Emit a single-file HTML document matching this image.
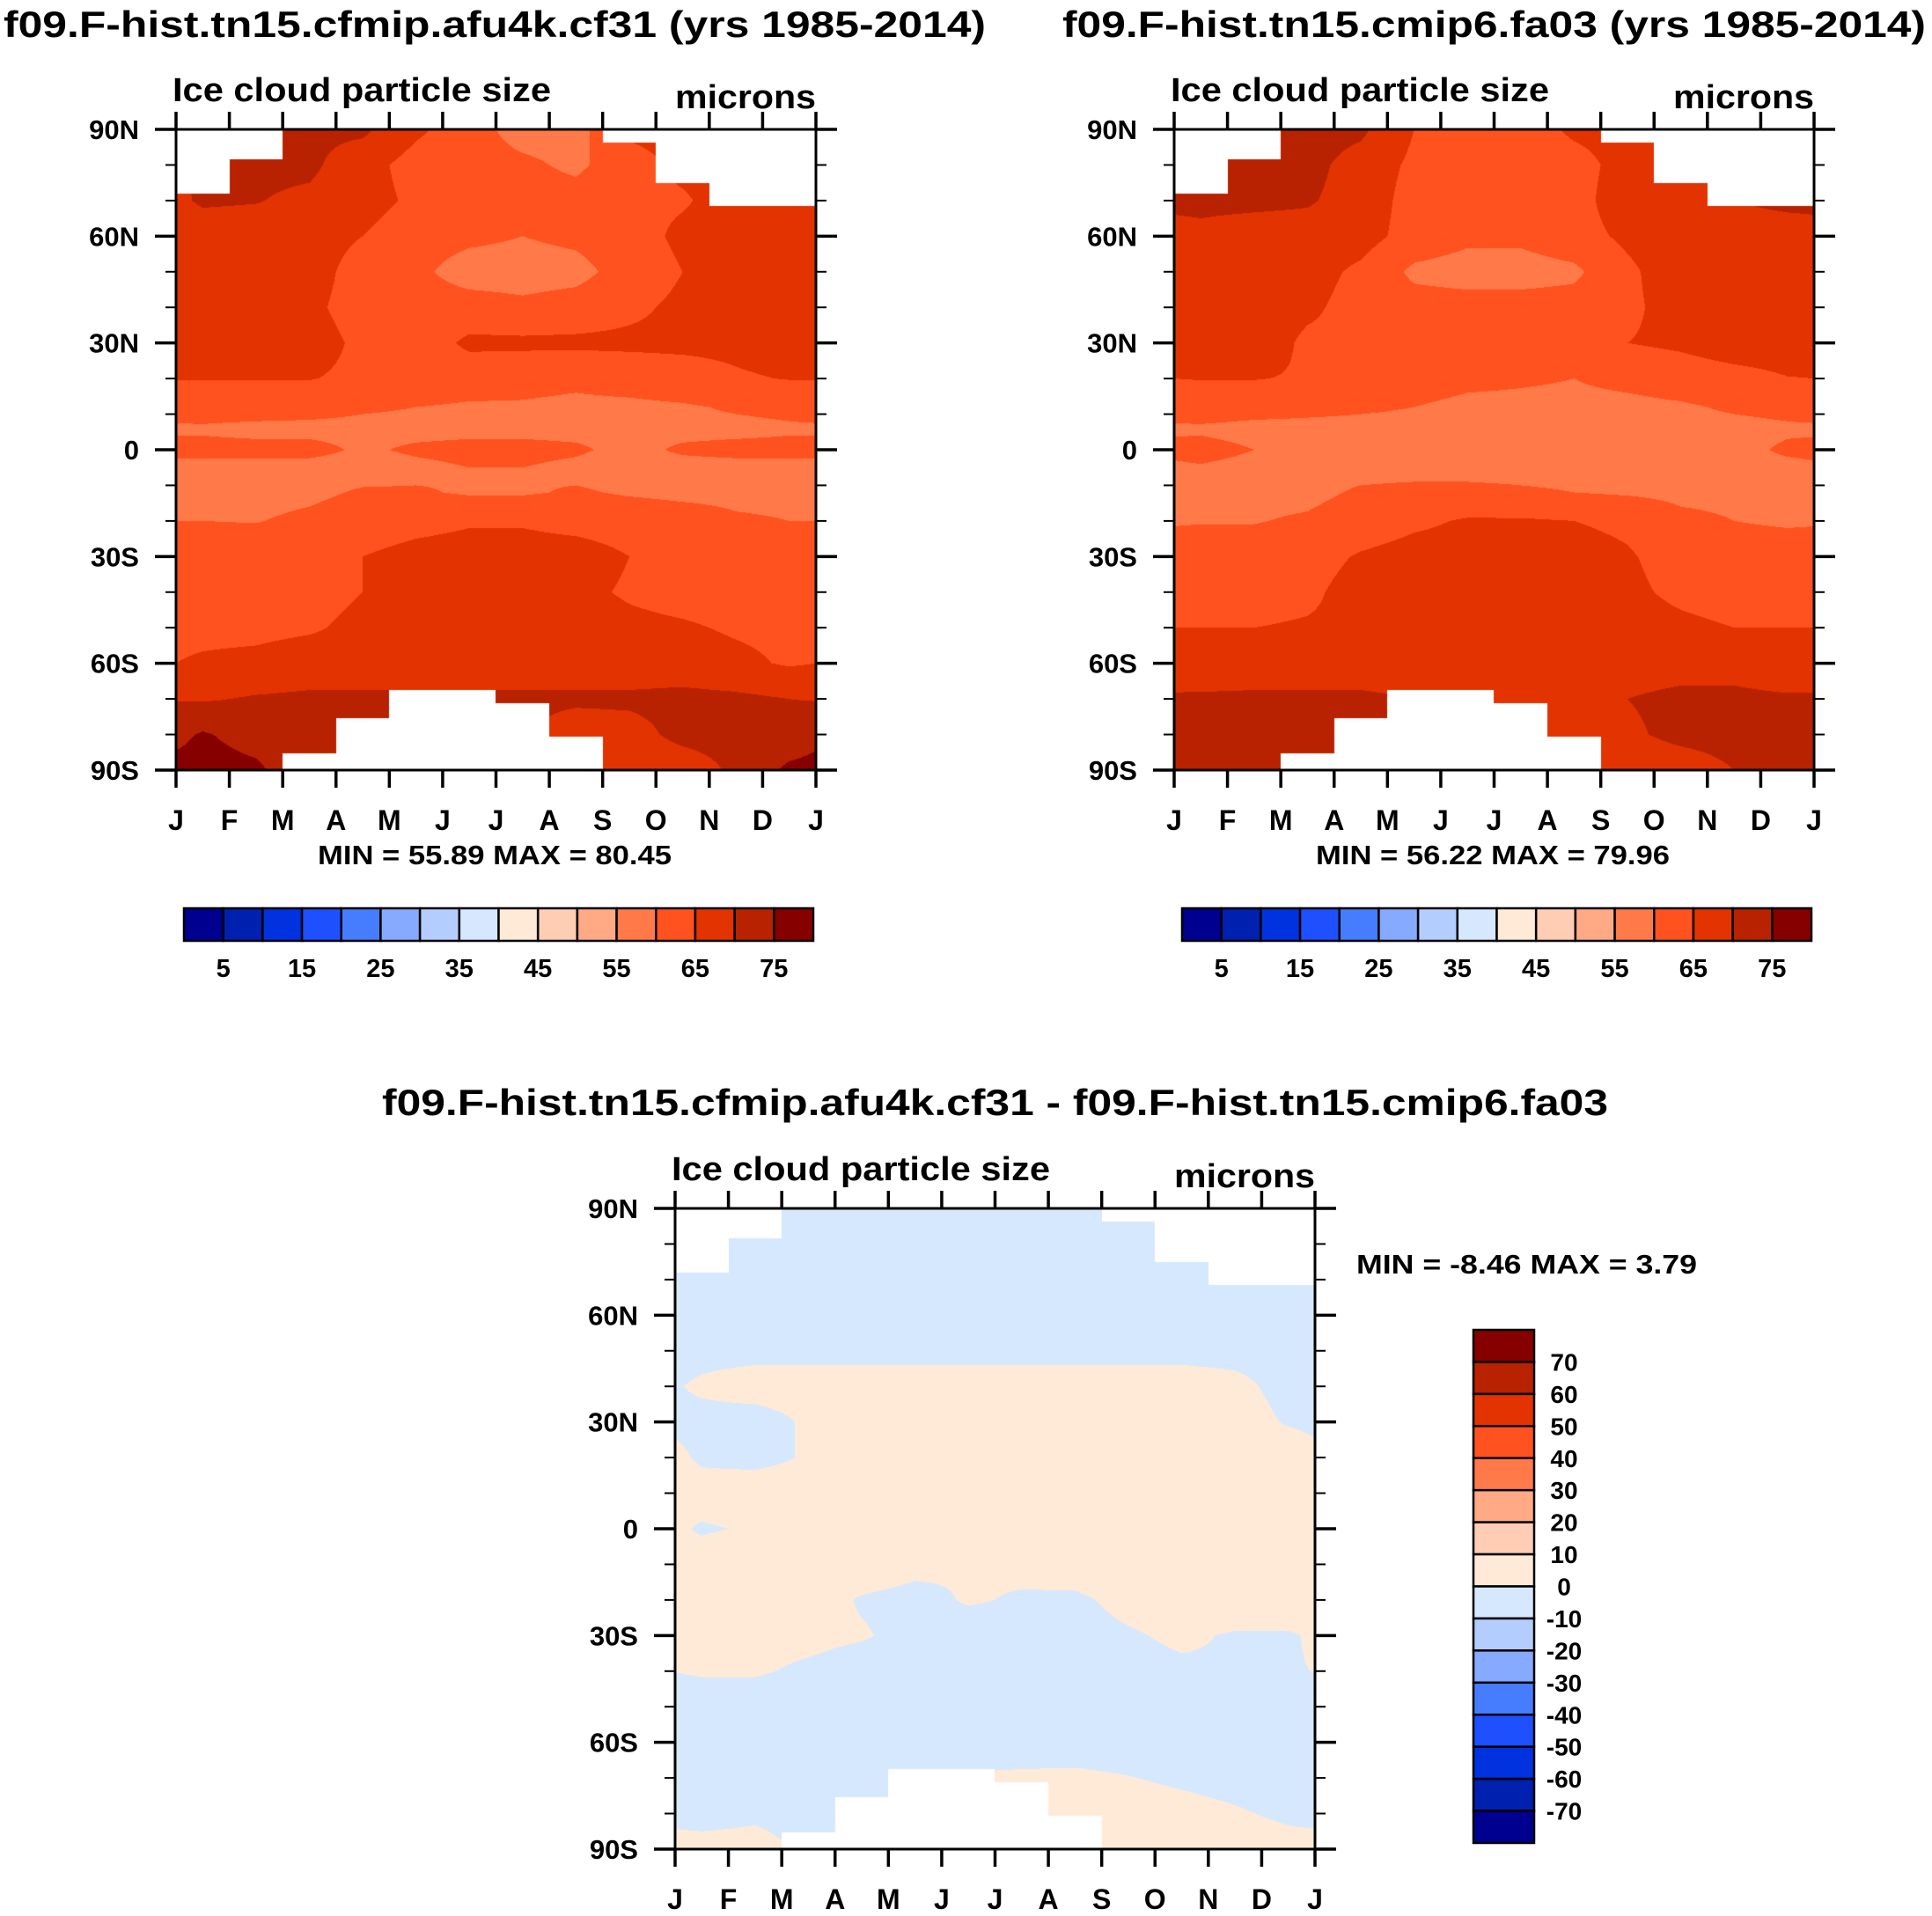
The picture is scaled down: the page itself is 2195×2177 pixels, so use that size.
<!DOCTYPE html>
<html><head><meta charset="utf-8">
<style>
html,body{margin:0;padding:0;background:#fff;}
#wrap{position:relative;width:2195px;height:2177px;overflow:hidden;font-family:"Liberation Sans",Arial,sans-serif;}
canvas{position:absolute;}
svg{position:absolute;left:0;top:0;}
text{font-family:"Liberation Sans",Arial,sans-serif;font-weight:bold;fill:#000;}
</style></head>
<body>
<div id="wrap">
<canvas id="c1" width="727" height="728" style="left:200px;top:147px"></canvas>
<canvas id="c2" width="727" height="728" style="left:1334px;top:147px"></canvas>
<canvas id="c3" width="727" height="728" style="left:767px;top:1373px"></canvas>
<svg id="ov" width="2195" height="2177"></svg>
</div>
<script>
// ---- data ----
const months = ["J","F","M","A","M","J","J","A","S","O","N","D","J"];
const lats = [90,80,70,60,50,40,30,20,12,6,0,-6,-12,-20,-30,-40,-50,-60,-70,-80,-90];
const northLimit = [72,81.6,90,90,90,90,90,90,86.4,75,68.4,68.4];
const southLimit = [-90,-90,-85.4,-75.3,-67.6,-67.6,-71.3,-80.6,-90,-90,-90,-90];
const fieldA = [
 [71,71,71,71,66,62,58,58,66,67,67,67],
 [71,71,71,67,63,62,61,59,63,66,67,67],
 [70.5,70.2,69,67,64,62,62,62,64,64.5,67,68],
 [68,68,67,65,62,61,60,61,63,66,68,68],
 [68,68,67,63,61,58,58,58.5,62,65,68,68],
 [68,68,66,63,62,62,61,62,64,66,68,68],
 [68,68,67,64,62,66,66,66,66,66,66,67],
 [65.2,65.2,65.2,64,63,62,61.5,61,62,63,64.5,65.2],
 [62,62,61.5,60.5,60,59.5,59.5,59,59,59.5,60.5,61],
 [59.5,59,59,59,59,59,59,59,59,59,59,59.5],
 [61,61,61,59.5,60.5,61,61,60.5,59,60.5,61,61],
 [58.5,58.5,58.5,58.5,59,59.8,59.8,59,58.5,58.5,58.5,58.5],
 [58.5,58.5,59,60.5,60.5,59.5,59.5,60.5,59.5,59,59,59],
 [60,59.8,61,62.5,63.5,64.5,64.5,63.5,63,62,60.5,60],
 [63,63,63.5,65,66.5,67,67,67,65,64,63,63],
 [63,63,63.5,65,67,67,67,66,64.5,63.5,63,63],
 [64,64,64.5,66,67,67,67,67,66,65.5,64.5,64],
 [65.5,66,67,67,67,67,67,67,67,67,66,64.5],
 [69.5,70.5,71,71,71,71,71,71,71,71.5,71,70],
 [75.5,73,71,71,71,71,71,67,68,71.5,72,72],
 [77,76,71,71,71,71,71,66,66,67,71,76]
];
const fieldB = [
 [72,72,72,71,65,62,62,66,67,68,70,72],
 [72,72,71.5,68,64,62,62,63,67,69,70,72],
 [71,71,70.5,68,63,62,62,63,68,68,70,71],
 [69,68,68,67,63,61,61,63,66,68,68,68],
 [68,68,67,64,59,58,58,59,64,68,68,68],
 [68,68,66,63,62,62,62,62,64,67,68,68],
 [68,68,64,64,63,63,63,64,65,66,68,68],
 [65.2,65.2,64.5,63,62,61,60.5,60,61,62,63,64.8],
 [62,61.5,61,60.5,60,59,59,59,59,59.5,60.5,61],
 [59.5,59,59,59,59,59,59,59,59,59,59,59.5],
 [61,60,59,59,59,59,59,59,59,59,59,60.5],
 [59.5,59,59,59,59,59,59,59,59,59,59,59],
 [59,59,59,60.5,61,61,60.5,60,59.5,59,59,59],
 [59.8,59.8,60.5,62,64,65.5,65.5,65,64,61,60,59.5],
 [62,62,63,65.5,67,67,67,67,65.5,63,62,62],
 [63,63,64,67,67,67,67,67,66,64,63,63],
 [65,65,65.5,66,67,67,67,67,67,66,65,65],
 [66,67,67,67,67,67,67,67,67,67.5,67.5,65],
 [71,71,71,71,70,70,68,68,70,71.5,71.5,71],
 [72,74,72,71,71,71,70,69,69,71.5,72,71.5],
 [74,72,71,71,71,71,70,68,66,67,70,73]
];
const fieldDiff = [
 [-2,-2,-2,-2,-2,-2,-2,-2,-2,-2,-2,-2],
 [-2,-2,-2,-2,-2,-2,-2,-2,-2,-2,-2,-2],
 [-2,-2,-2,-2,-2,-2,-2,-2,-2,-2,-2,-2],
 [-2,-2,-2,-2,-2,-2,-2,-2,-2,-2,-2,-2],
 [-1,-1,-1,-1,-1,-1,-1,-1,-1,-1,-1,-1],
 [0.5,1.5,1.5,1.5,1.5,1.5,1.5,1.5,1.5,1.5,0.8,-1],
 [-1,-1.5,0.5,2,2,2,2,2,2,2,1.5,-0.3],
 [-0.5,-1.5,0.5,2,2,2,2,2,2,2,1,2],
 [1,2,2,2,2,2,2,2,2,2,2,2],
 [1,2,2,2,2,2,2,2,2,2,2,2],
 [-0.5,0.5,2,2,2,2,2,2,2,2,2,2],
 [1,2,2,2,2,2,2,2,2,2,2,2],
 [2,2,2,1.5,0.5,0.2,0.5,1,2,2,2,2],
 [2,2,1.5,-0.3,-1,0.3,-0.3,-0.5,0.8,1.5,2,2],
 [1,1,0.8,0.3,-1,-1.5,-1.5,-1,-0.3,0.5,-0.3,-0.3],
 [0.3,0.3,-0.5,-1.5,-1.5,-1.5,-1.5,-1.5,-1,-0.5,-0.2,-0.2],
 [-1.5,-1.5,-1.5,-1.5,-1.5,-1.5,-1.5,-1.5,-1.5,-1.5,-1.5,-1.5],
 [-1.5,-1.5,-1.5,-1.5,-1.5,-1.5,-1.5,-1.5,-1.5,-1.5,-1.5,-1.5],
 [-1.5,-1.5,-1.5,-1,-0.5,0.3,0.5,0.6,0.1,-0.5,-1,-1.5],
 [-1,-0.5,-1,-1,-0.5,0.5,1,1,1.5,1,0.3,-0.5],
 [1,1,-0.5,0.5,0.5,1,1,1,1.5,1.5,1.5,1]
];
const palette = ["#000090","#0020b0","#0032e0","#1e50ff","#467dff","#85aaff","#b4cdff","#d6e8fd","#ffead8","#ffcdb4","#ffaa85","#ff7a48","#ff521e","#e23300","#b82200","#870000"];
const levelsTop = [5,10,15,20,25,30,35,40,45,50,55,60,65,70,75];
const levelsDiff = [-70,-60,-50,-40,-30,-20,-10,0,10,20,30,40,50,60,70];
const cbTopLabels = ["5","15","25","35","45","55","65","75"];
const cbDiffLabels = ["70","60","50","40","30","20","10","0","-10","-20","-30","-40","-50","-60","-70"];
const latLabels = ["90N","60N","30N","0","30S","60S","90S"];

// ---- field rendering ----
const W=727,H=728;
function hex(c){return [parseInt(c.substr(1,2),16),parseInt(c.substr(3,2),16),parseInt(c.substr(5,2),16)];}
const palRGB = palette.map(hex);
function colorIdx(v,levels){let i=0;while(i<levels.length&&v>=levels[i])i++;return i;}
function drawField(id,field,levels){
  const cv=document.getElementById(id),ctx=cv.getContext('2d');
  const img=ctx.createImageData(W,H),d=img.data;
  for(let py=0;py<H;py++){
    const lat=90-(py+0.5)/H*180;
    let r=0;while(r<lats.length-2&&lat<lats[r+1])r++;
    const fy=(lats[r]-lat)/(lats[r]-lats[r+1]);
    for(let px=0;px<W;px++){
      const mt=(px+0.5)/W*12;
      const mi=Math.min(11,Math.floor(mt));
      let o=(py*W+px)*4;
      if(lat>northLimit[mi]||lat<southLimit[mi]){d[o]=255;d[o+1]=255;d[o+2]=255;d[o+3]=255;continue;}
      const t=mt-0.5;let i0=Math.floor(t);const fx=t-i0;
      const a=((i0%12)+12)%12,b=(a+1)%12;
      const v0=field[r][a]*(1-fx)+field[r][b]*fx;
      const v1=field[r+1][a]*(1-fx)+field[r+1][b]*fx;
      const v=v0*(1-fy)+v1*fy;
      const c=palRGB[colorIdx(v,levels)];
      d[o]=c[0];d[o+1]=c[1];d[o+2]=c[2];d[o+3]=255;
    }
  }
  ctx.putImageData(img,0,0);
}
drawField('c1',fieldA,levelsTop);
drawField('c2',fieldB,levelsTop);
drawField('c3',fieldDiff,levelsDiff);

// ---- overlay ----
const NS="http://www.w3.org/2000/svg";
const ov=document.getElementById('ov');
function mk(tag,attrs,txt){const e=document.createElementNS(NS,tag);for(const k in attrs)e.setAttribute(k,attrs[k]);if(txt!==undefined)e.textContent=txt;ov.appendChild(e);return e;}
function line(x1,y1,x2,y2,w){return mk('line',{x1:x1,y1:y1,x2:x2,y2:y2,stroke:'#000','stroke-width':w});}

function axes(ox,oy,key){
  const f=mk('rect',{x:ox,y:oy,width:W,height:H,fill:'none',stroke:'#000','stroke-width':3});
  
  
  for(let m=0;m<=12;m++){
    const x=ox+m*W/12;
    const t1=line(x,oy,x,oy-20,3.5);
    
    
    const t2=line(x,oy+H,x,oy+H+20,3.5);
    
    
    const lb=mk('text',{x:x,y:oy+H+68,'font-size':32,'text-anchor':'middle'},months[m]);
    
    
  }
  for(let k=0;k<=18;k++){
    const y=oy+k*H/18;
    const maj=(k%3===0);const L=maj?24:12;
    const a=line(ox,y,ox-L,y,maj?3.5:2);
    
    
    const b=line(ox+W,y,ox+W+L,y,maj?3.5:2);
    
    
    if(maj){
      const lb=mk('text',{x:ox-42,y:y+11,'font-size':31,'text-anchor':'end'},latLabels[k/3]);
      
      
    }
  }
  const s1=mk('text',{x:ox-4,y:oy-32,'font-size':38,textLength:430,lengthAdjust:'spacingAndGlyphs'},'Ice cloud particle size');
  
  
  const s2=mk('text',{x:ox+W-160,y:oy-24,'font-size':38,textLength:160,lengthAdjust:'spacingAndGlyphs'},'microns');
  
  
}
axes(200,147,'cf31');
axes(1334,147,'fa03');
axes(767,1373,'diff');

function title(x,y,len,txt,name){
  const t=mk('text',{x:x,y:y,'font-size':42,textLength:len,lengthAdjust:'spacingAndGlyphs'},txt);
  
  
}
title(4,42,1116,'f09.F-hist.tn15.cfmip.afu4k.cf31 (yrs 1985-2014)','title-cf31');
title(1207,42,981,'f09.F-hist.tn15.cmip6.fa03 (yrs 1985-2014)','title-fa03');
title(434,1267,1393,'f09.F-hist.tn15.cfmip.afu4k.cf31 - f09.F-hist.tn15.cmip6.fa03','title-difference');

function minmax(x,y,len,txt,name){
  const t=mk('text',{x:x,y:y,'font-size':31,textLength:len,lengthAdjust:'spacingAndGlyphs'},txt);
  
  
}
minmax(361,982,402,'MIN =  55.89 MAX =  80.45','minmax-cf31');
minmax(1495,982,402,'MIN =  56.22 MAX =  79.96','minmax-fa03');
minmax(1541,1447,387,'MIN =  -8.46 MAX =   3.79','minmax-difference');

function hbar(x0,key){
  const bw=715/16;
  for(let i=0;i<16;i++){
    const r=mk('rect',{x:x0+i*bw,y:1032,width:bw,height:37,fill:palette[i],stroke:'#000','stroke-width':2.5});
    
    
  }
  for(let j=0;j<cbTopLabels.length;j++){
    const t=mk('text',{x:x0+(2*j+1)*bw,y:1110,'font-size':29,'text-anchor':'middle'},cbTopLabels[j]);
    
    
  }
}
hbar(209,'cf31');
hbar(1343,'fa03');

(function(){
  const bh=583/16;
  for(let i=0;i<16;i++){
    const r=mk('rect',{x:1674,y:1511+i*bh,width:69,height:bh,fill:palette[15-i],stroke:'#000','stroke-width':2.5});
    
    
  }
  for(let j=0;j<cbDiffLabels.length;j++){
    const t=mk('text',{x:1777,y:1511+(j+1)*bh+10,'font-size':28,'text-anchor':'middle'},cbDiffLabels[j]);
    
    
  }
})();
</script>
</body></html>
